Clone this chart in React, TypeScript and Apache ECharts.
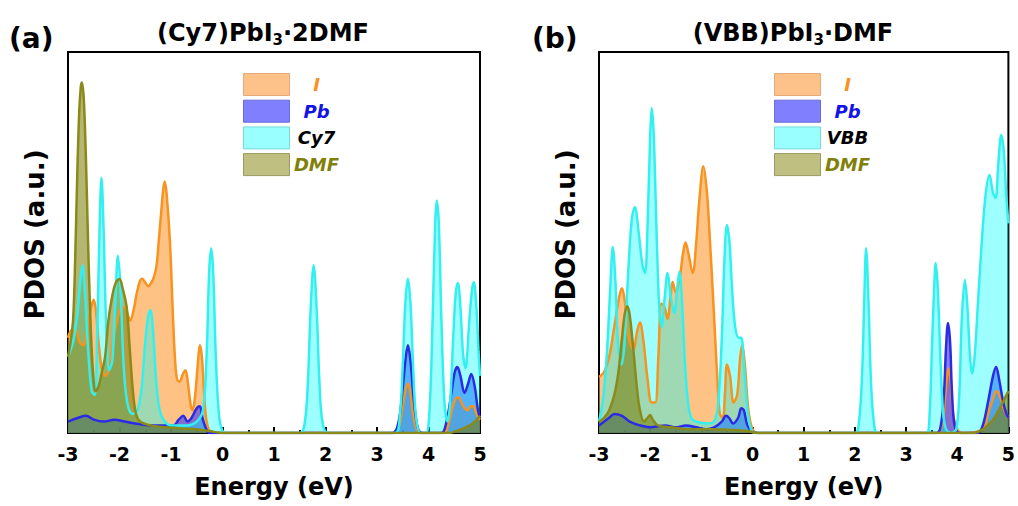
import React, { useEffect, useRef } from "react";
import * as echarts from "echarts";

// ---------- Data: [Energy (eV), PDOS (a.u.)] ----------
const X_MIN = -3;
const X_MAX = 5;

// Panel (a): (Cy7)PbI3·2DMF
const I_A: number[][] = [
  [-3, 25], [-2.93, 27], [-2.85, 27], [-2.78, 24], [-2.7, 23], [-2.62, 28], [-2.55, 33], [-2.5, 35],
  [-2.45, 31], [-2.4, 23], [-2.33, 16], [-2.26, 15], [-2.18, 19], [-2.1, 26], [-2.02, 31], [-1.95, 33],
  [-1.89, 33], [-1.84, 31], [-1.79, 29.5], [-1.73, 32], [-1.66, 37], [-1.6, 40], [-1.56, 40.5],
  [-1.5, 39.5], [-1.44, 38.5], [-1.38, 39.5], [-1.33, 41], [-1.28, 44], [-1.24, 50], [-1.19, 58],
  [-1.15, 64], [-1.12, 66], [-1.08, 62], [-1.02, 50], [-0.96, 30], [-0.92, 19], [-0.88, 14],
  [-0.83, 13.5], [-0.77, 15.5], [-0.72, 16.5], [-0.67, 13], [-0.62, 7.5], [-0.58, 6], [-0.53, 10],
  [-0.48, 18], [-0.44, 23], [-0.4, 20], [-0.36, 11], [-0.32, 4], [-0.27, 1], [-0.2, 0], [0, 0],
  [3.3, 0], [3.42, 1.5], [3.5, 7], [3.55, 11], [3.6, 13], [3.65, 10.5], [3.7, 5], [3.77, 1], [3.85, 0],
  [4.3, 0], [4.38, 2], [4.46, 6.5], [4.53, 9], [4.58, 9.4], [4.64, 8], [4.7, 6.5], [4.76, 6],
  [4.82, 7], [4.87, 7], [4.93, 5], [5, 3.5],
];
const PB_A: number[][] = [
  [-3, 3], [-2.8, 4], [-2.65, 4.5], [-2.5, 3.5], [-2.3, 3], [-2.1, 3.5], [-1.9, 3], [-1.7, 2.5],
  [-1.4, 2], [-1.1, 2], [-0.95, 2], [-0.85, 3.5], [-0.76, 4.5], [-0.68, 3], [-0.6, 4], [-0.5, 6.5],
  [-0.44, 7], [-0.39, 4], [-0.33, 1.5], [-0.25, 0], [3.3, 0], [3.42, 3], [3.5, 12], [3.56, 20],
  [3.6, 23], [3.65, 19], [3.72, 8], [3.8, 1], [3.9, 0], [4.25, 0], [4.35, 3], [4.45, 11], [4.51, 16],
  [4.56, 17.3], [4.62, 15], [4.7, 10.5], [4.77, 13], [4.83, 15.5], [4.9, 12], [4.96, 6], [5, 4],
];
const CY7_A: number[][] = [
  [-3, 20], [-2.9, 24], [-2.82, 31], [-2.76, 40], [-2.72, 44], [-2.67, 37], [-2.61, 22], [-2.54, 11],
  [-2.48, 10], [-2.43, 28], [-2.39, 52], [-2.35, 67], [-2.31, 54], [-2.26, 29], [-2.2, 16.5],
  [-2.14, 19], [-2.08, 35], [-2.03, 46.5], [-1.98, 38], [-1.92, 18], [-1.85, 8], [-1.75, 5],
  [-1.65, 6], [-1.57, 12], [-1.5, 24], [-1.44, 31], [-1.4, 32.3], [-1.35, 27], [-1.29, 14],
  [-1.22, 6], [-1.12, 3], [-1.0, 2], [-0.7, 2], [-0.5, 3], [-0.38, 6], [-0.31, 20], [-0.26, 42],
  [-0.22, 48.5], [-0.18, 42], [-0.13, 20], [-0.07, 5], [0, 0.5], [0.1, 0], [1.5, 0], [1.6, 3],
  [1.66, 14], [1.71, 32], [1.77, 44], [1.83, 32], [1.88, 14], [1.94, 3], [2.05, 0], [3.35, 0],
  [3.44, 4], [3.5, 18], [3.55, 34], [3.6, 40.5], [3.65, 34], [3.7, 18], [3.76, 4], [3.85, 0],
  [3.95, 0], [4.02, 6], [4.08, 30], [4.13, 55], [4.16, 61], [4.2, 55], [4.25, 30], [4.31, 8],
  [4.37, 3], [4.42, 8], [4.48, 25], [4.53, 37], [4.57, 39.4], [4.62, 33], [4.67, 21], [4.72, 17],
  [4.78, 27], [4.84, 37], [4.88, 39.6], [4.93, 33], [4.97, 22], [5, 15],
];
const DMF_A: number[][] = [
  [-3, 20], [-2.95, 24], [-2.9, 30], [-2.86, 46], [-2.82, 68], [-2.78, 85], [-2.75, 91], [-2.73, 92],
  [-2.7, 89], [-2.67, 80], [-2.64, 66], [-2.61, 50], [-2.57, 32], [-2.52, 17], [-2.46, 11],
  [-2.4, 12.5], [-2.35, 15.5], [-2.28, 20], [-2.22, 29], [-2.14, 36], [-2.07, 39.5], [-2.0, 40.4],
  [-1.94, 38], [-1.86, 33], [-1.8, 22], [-1.74, 11], [-1.68, 5], [-1.6, 3], [-1.4, 2], [-1.1, 1.5],
  [-0.8, 1.2], [-0.5, 1], [-0.25, 0.5], [0, 0], [4.4, 0], [4.6, 0.8], [4.8, 2], [4.9, 3], [5, 4.5],
];

// Panel (b): (VBB)PbI3·DMF
const I_B: number[][] = [
  [-3, 14.7], [-2.9, 16], [-2.8, 20], [-2.7, 28], [-2.6, 36], [-2.55, 38], [-2.5, 35], [-2.42, 25],
  [-2.33, 22], [-2.25, 27], [-2.2, 29], [-2.13, 24], [-2.05, 14], [-1.97, 8], [-1.9, 8], [-1.84, 20],
  [-1.78, 34], [-1.72, 33], [-1.66, 30], [-1.6, 36], [-1.56, 39.6], [-1.5, 37], [-1.43, 40],
  [-1.36, 47], [-1.31, 50], [-1.25, 47], [-1.17, 42], [-1.1, 50], [-1.04, 61], [-0.96, 70],
  [-0.89, 63], [-0.83, 50], [-0.78, 38], [-0.73, 25], [-0.69, 15], [-0.64, 5], [-0.58, 4],
  [-0.54, 10], [-0.5, 18], [-0.44, 15], [-0.37, 8], [-0.3, 10], [-0.24, 20], [-0.2, 23],
  [-0.15, 18], [-0.08, 6], [0, 1], [0.1, 0], [3.6, 0], [3.7, 2], [3.76, 9], [3.8, 15], [3.83, 17],
  [3.87, 14], [3.92, 5], [4.0, 1], [4.1, 0], [4.5, 1], [4.6, 5], [4.7, 9], [4.77, 11], [4.85, 9],
  [4.92, 6], [5, 4],
];
const PB_B: number[][] = [
  [-3, 2], [-2.8, 4], [-2.7, 5], [-2.55, 4.5], [-2.4, 3], [-2.2, 2], [-2.0, 1.5], [-1.7, 2],
  [-1.5, 1.5], [-1.3, 2], [-1.1, 1.5], [-0.9, 1], [-0.75, 1.5], [-0.6, 3], [-0.52, 4.5], [-0.46, 4],
  [-0.38, 2.5], [-0.28, 4], [-0.22, 6.5], [-0.17, 6], [-0.1, 2], [0, 0.3], [0.1, 0], [3.6, 0],
  [3.68, 2], [3.74, 10], [3.78, 22], [3.82, 28.9], [3.86, 24], [3.9, 10], [3.95, 2], [4.05, 0],
  [4.4, 0], [4.5, 2], [4.6, 8], [4.7, 15], [4.76, 17.3], [4.82, 14], [4.9, 8], [4.96, 5], [5, 4],
];
const VBB_B: number[][] = [
  [-3, 3], [-2.93, 8], [-2.85, 20], [-2.78, 38], [-2.73, 48.8], [-2.68, 40], [-2.62, 22],
  [-2.56, 18], [-2.5, 24], [-2.43, 42], [-2.36, 56], [-2.3, 59.3], [-2.22, 52], [-2.15, 44],
  [-2.1, 42], [-2.05, 55], [-2.0, 78], [-1.97, 85.3], [-1.93, 78], [-1.88, 55], [-1.83, 35],
  [-1.78, 27.8], [-1.72, 35], [-1.66, 42], [-1.6, 36], [-1.53, 31.5], [-1.48, 37], [-1.43, 42.3],
  [-1.38, 35], [-1.32, 18], [-1.26, 8], [-1.2, 4], [-1.1, 3], [-0.9, 2.5], [-0.75, 3], [-0.67, 8],
  [-0.6, 25], [-0.55, 45], [-0.5, 54.6], [-0.45, 50], [-0.4, 38], [-0.34, 28], [-0.27, 25],
  [-0.22, 25], [-0.17, 18], [-0.1, 6], [-0.03, 1], [0.05, 0], [2.0, 0], [2.08, 3], [2.14, 15],
  [2.18, 33], [2.22, 48.5], [2.27, 33], [2.31, 15], [2.37, 3], [2.45, 0], [3.4, 0], [3.46, 5],
  [3.51, 24], [3.55, 38], [3.58, 44.6], [3.62, 38], [3.67, 20], [3.72, 6], [3.78, 1], [3.88, 0],
  [3.98, 1], [4.04, 10], [4.09, 30], [4.15, 40.2], [4.2, 33], [4.25, 20], [4.29, 15.7], [4.34, 20],
  [4.4, 33], [4.47, 48], [4.55, 62], [4.63, 67.7], [4.7, 63], [4.75, 61.7], [4.8, 70], [4.86, 78.2],
  [4.91, 74], [4.96, 62], [5, 55],
];
const DMF_B: number[][] = [
  [-3, 3], [-2.9, 4], [-2.8, 6], [-2.7, 10], [-2.62, 16], [-2.55, 25], [-2.5, 31], [-2.45, 33.3],
  [-2.4, 31], [-2.33, 22], [-2.26, 12], [-2.2, 6], [-2.12, 3], [-2.05, 4], [-2.0, 4.7], [-1.95, 3.5],
  [-1.85, 2], [-1.6, 1.5], [-1.2, 1], [-0.8, 1], [-0.4, 0.8], [-0.1, 0.5], [0.1, 0], [4.3, 0],
  [4.5, 1], [4.7, 3.5], [4.85, 7], [5, 11],
];

const TITLES = ["(Cy7)PbI", "(VBB)PbI"];
const TITLE_TAILS = ["·2DMF", "·DMF"];
const PANEL_TAGS = ["(a)", "(b)"];
const LEGEND_A = ["I", "Pb", "Cy7", "DMF"];
const LEGEND_B = ["I", "Pb", "VBB", "DMF"];

const FONT = '"DejaVu Sans", "Liberation Sans", sans-serif';

const C_I = { line: "#F7931E", fill: "#FF9A33", op: 0.6, box: "#FDC18A", boxB: "#E6AA78", text: "#F7931E" };
const C_PB = { line: "#2B2BE6", fill: "#3333FF", op: 0.6, box: "#8080FF", boxB: "#6A6AD8", text: "#1414E6" };
const C_CY = { line: "#33F0F0", fill: "#00FFFF", op: 0.38, box: "#99FFFF", boxB: "#7AD9D9", text: "#000000" };
const C_DMF = { line: "#8A8A1A", fill: "#7A7A00", op: 0.55, box: "#BFBF82", boxB: "#9A9A60", text: "#80800A" };

function mk(name: string, data: number[][], idx: number, c: any) {
  return {
    type: "line",
    name,
    data,
    xAxisIndex: idx,
    yAxisIndex: idx,
    smooth: 0.35,
    symbol: "none",
    silent: true,
    clip: true,
    lineStyle: { color: c.line, width: 2.5 },
    itemStyle: { color: c.line },
    areaStyle: { color: c.fill, opacity: c.op },
  };
}

function legend(names: string[], left: number) {
  const cols = [C_I, C_PB, C_CY, C_DMF];
  const keys = ["k0", "k1", "k2", "k3"];
  const rich: any = {};
  cols.forEach((c, i) => {
    rich[keys[i]] = {
      color: c.text,
      fontFamily: FONT,
      fontSize: 18,
      fontWeight: "bold",
      fontStyle: "italic",
      width: 44,
      align: "center",
      lineHeight: 22,
    };
  });
  return {
    show: true,
    left,
    top: 68,
    orient: "vertical",
    itemWidth: 46,
    itemHeight: 22,
    itemGap: 3.7,
    selectedMode: false,
    icon: "rect",
    data: names.map((n, i) => ({
      name: n,
      icon: "rect",
      itemStyle: { color: cols[i].box, borderColor: cols[i].boxB, borderWidth: 1, opacity: 1 },
    })),
    formatter: (n: string) => {
      const i = names.indexOf(n);
      return `{${keys[i]}|${n}}`;
    },
    textStyle: { rich },
  };
}

function xAxis(idx: number) {
  return {
    gridIndex: idx,
    type: "value",
    min: X_MIN,
    max: X_MAX,
    interval: 1,
    axisLine: { show: true, onZero: false, lineStyle: { color: "#000", width: 2 } },
    axisTick: { show: true, inside: true, length: 6, lineStyle: { color: "#000", width: 2 } },
    minorTick: { show: true, splitNumber: 2, length: 3, lineStyle: { color: "#000", width: 2 } },
    splitLine: { show: false },
    minorSplitLine: { show: false },
    axisLabel: { color: "#000", fontSize: 19, fontWeight: "bold", fontFamily: FONT, margin: 11 },
    name: "Energy (eV)",
    nameLocation: "middle",
    nameGap: 42,
    nameTextStyle: { color: "#000", fontSize: 24, fontWeight: "bold", fontFamily: FONT },
  };
}

function yAxis(idx: number) {
  return {
    gridIndex: idx,
    type: "value",
    min: 0,
    max: 100,
    axisLine: { show: true, onZero: false, lineStyle: { color: "#000", width: 2 } },
    axisTick: { show: false },
    axisLabel: { show: false },
    splitLine: { show: false },
    name: "PDOS (a.u.)",
    nameLocation: "middle",
    nameGap: 20,
    nameTextStyle: {
      color: "#000",
      fontSize: 26,
      fontWeight: "bold",
      fontFamily: FONT,
      padding: [0, 0, 0, 16],
    },
  };
}

function titleText(i: number, cx: number) {
  return {
    type: "text",
    x: cx,
    y: 19,
    style: {
      text: `{t|${TITLES[i]}}{s|3}{t|${TITLE_TAILS[i]}}`,
      align: "center",
      verticalAlign: "top",
      rich: {
        t: { fontFamily: FONT, fontSize: 24, fontWeight: "bold", fill: "#000", lineHeight: 28 },
        s: { fontFamily: FONT, fontSize: 15, fontWeight: "bold", fill: "#000", lineHeight: 14, verticalAlign: "bottom" },
      },
    },
  };
}

function tagText(i: number, x: number) {
  return {
    type: "text",
    x,
    y: 38,
    style: {
      text: PANEL_TAGS[i],
      fontFamily: FONT,
      fontSize: 28,
      fontWeight: "bold",
      fill: "#000",
      align: "left",
      verticalAlign: "middle",
    },
  };
}

export default function App() {
  const ref = useRef<HTMLDivElement>(null);
  useEffect(() => {
    if (!ref.current) return;
    const chart = echarts.init(ref.current, null, { renderer: "svg" });
    const option: any = {
      animation: false,
      backgroundColor: "#fff",
      grid: [
        { left: 68, right: 1018 - 480, top: 52, bottom: 506 - 433, show: true, borderColor: "#000", borderWidth: 2, backgroundColor: "transparent" },
        { left: 599, right: 1018 - 1011, top: 52, bottom: 506 - 433, show: true, borderColor: "#000", borderWidth: 2, backgroundColor: "transparent" },
      ],
      xAxis: [xAxis(0), xAxis(1)],
      yAxis: [yAxis(0), yAxis(1)],
      legend: [legend(LEGEND_A, 238), legend(LEGEND_B, 769)],
      series: [
        mk("I", I_A, 0, C_I),
        mk("Pb", PB_A, 0, C_PB),
        mk("Cy7", CY7_A, 0, C_CY),
        mk("DMF", DMF_A, 0, C_DMF),
        mk("I", I_B, 1, C_I),
        mk("Pb", PB_B, 1, C_PB),
        mk("VBB", VBB_B, 1, C_CY),
        mk("DMF", DMF_B, 1, C_DMF),
      ],
      graphic: [titleText(0, 263), titleText(1, 793), tagText(0, 9), tagText(1, 532)],
    };
    chart.setOption(option);
    return () => chart.dispose();
  }, []);
  return (
    <div
      ref={ref}
      style={{ position: "fixed", left: 0, top: 0, width: 1018, height: 506, background: "#fff" }}
    />
  );
}
